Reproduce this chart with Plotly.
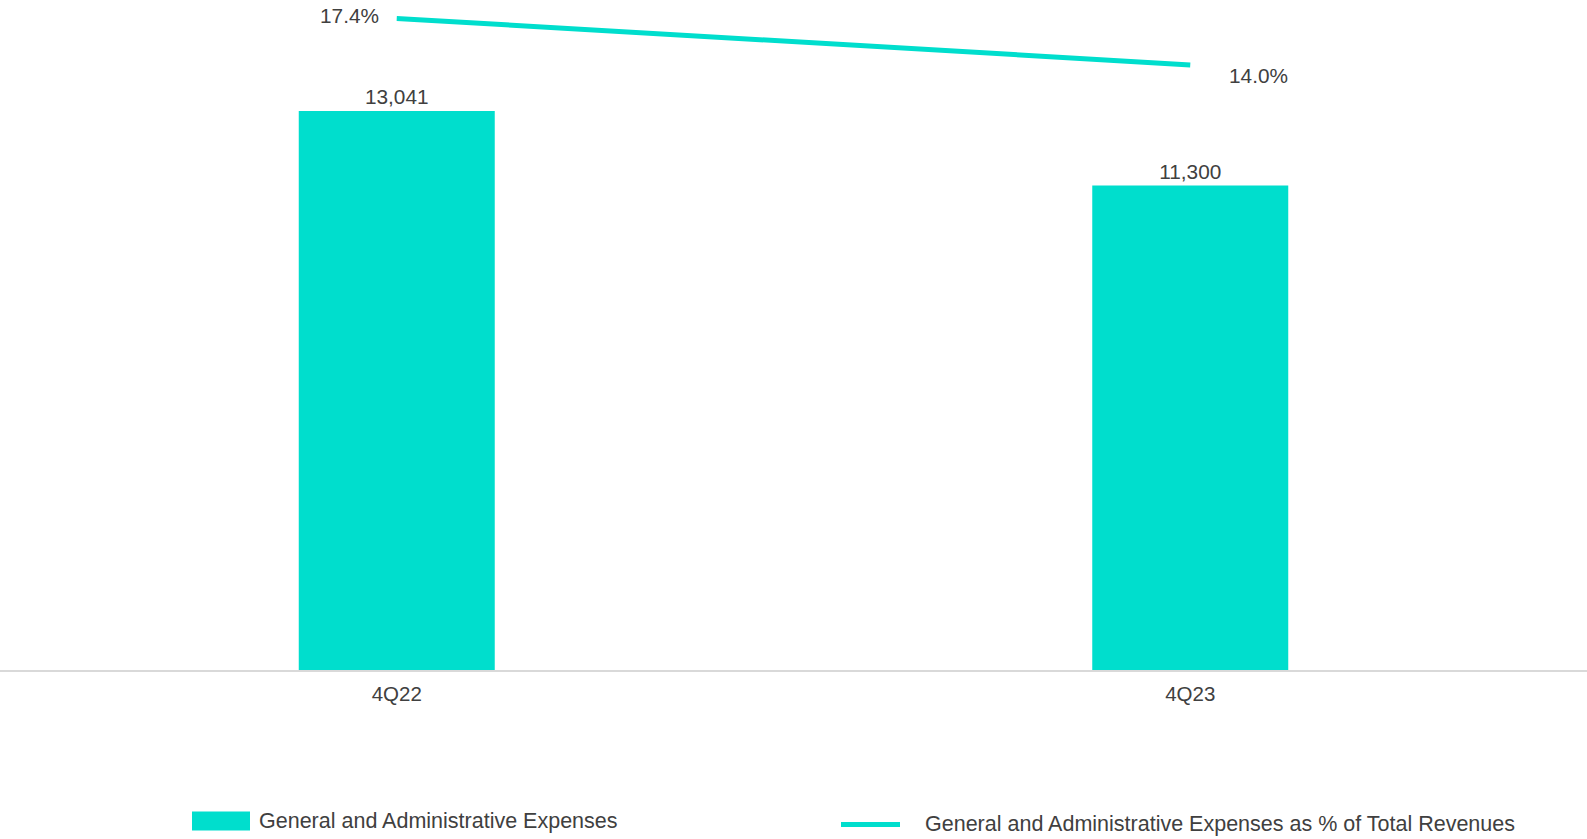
import plotly.graph_objects as go

categories = ["4Q22", "4Q23"]
ga_expenses = [13041, 11300]
ga_pct_revenue = [17.4, 14.0]
bar_name = "General and Administrative Expenses"
line_name = "General and Administrative Expenses as % of Total Revenues"

TEAL = "#00DECD"
TXT = "#404040"
FONT = "Liberation Sans, Arial, sans-serif"

W, H = 1587, 839
T, B = 0, 168.5
PH = H - T - B

def px(x):
    return x / W

def py(y):
    return (H - B - y) / PH

fig = go.Figure()
fig.add_trace(go.Bar(
    x=categories, y=ga_expenses, name=bar_name,
    marker=dict(color=TEAL, line=dict(width=0)),
    width=0.247,
    text=[f"{v:,}" for v in ga_expenses], textposition="outside",
    textfont=dict(size=20.8, color=TXT, family=FONT),
    cliponaxis=False, showlegend=False,
))
fig.add_trace(go.Scatter(
    x=categories, y=ga_pct_revenue, name=line_name, yaxis="y2",
    mode="lines", line=dict(color=TEAL, width=5),
    cliponaxis=False, showlegend=False,
))

annotations = []
annotations.append(dict(x=categories[0], y=ga_pct_revenue[0], xref="x", yref="y2",
                        text=f"{ga_pct_revenue[0]:.1f}%", showarrow=False,
                        xanchor="right", yanchor="middle", xshift=-16, yshift=2.5,
                        font=dict(size=20.8, color=TXT, family=FONT)))
annotations.append(dict(x=categories[1], y=ga_pct_revenue[1], xref="x", yref="y2",
                        text=f"{ga_pct_revenue[1]:.1f}%", showarrow=False,
                        xanchor="left", yanchor="middle", xshift=37, yshift=-10.5,
                        font=dict(size=20.8, color=TXT, family=FONT)))
# legend texts
annotations.append(dict(x=px(257), y=py(822), xref="paper", yref="paper", text=bar_name,
                        showarrow=False, xanchor="left", yanchor="middle",
                        font=dict(size=21.5, color=TXT, family=FONT)))
annotations.append(dict(x=px(923), y=py(825), xref="paper", yref="paper", text=line_name,
                        showarrow=False, xanchor="left", yanchor="middle",
                        font=dict(size=21.5, color=TXT, family=FONT)))

shapes = [
    dict(type="rect", xref="paper", yref="paper", x0=px(192), x1=px(250),
         y0=py(831), y1=py(812), fillcolor=TEAL, line=dict(width=0)),
    dict(type="line", xref="paper", yref="paper", x0=px(841), x1=px(900),
         y0=py(825), y1=py(825), line=dict(color=TEAL, width=5)),
]

fig.update_layout(
    width=W, height=H,
    margin=dict(l=0, r=0, t=T, b=B, pad=0),
    paper_bgcolor="white", plot_bgcolor="white",
    font=dict(family=FONT, color=TXT, size=20),
    xaxis=dict(range=[-0.5, 1.5], showline=True, linecolor="#d9d9d9", linewidth=1.5,
               showgrid=False, zeroline=False, ticks="", ticklabelstandoff=5,
               tickfont=dict(size=20.5, color=TXT, family=FONT)),
    yaxis=dict(range=[0, 15628], visible=False, showgrid=False, zeroline=False),
    yaxis2=dict(range=[-30.27, 18.75], overlaying="y", side="right", visible=False,
                showgrid=False, zeroline=False),
    annotations=annotations, shapes=shapes,
    showlegend=False,
)

fig.write_html("out.html", config={"displayModeBar": False},
               post_script="document.body.style.margin='0';document.body.style.overflow='hidden';")
